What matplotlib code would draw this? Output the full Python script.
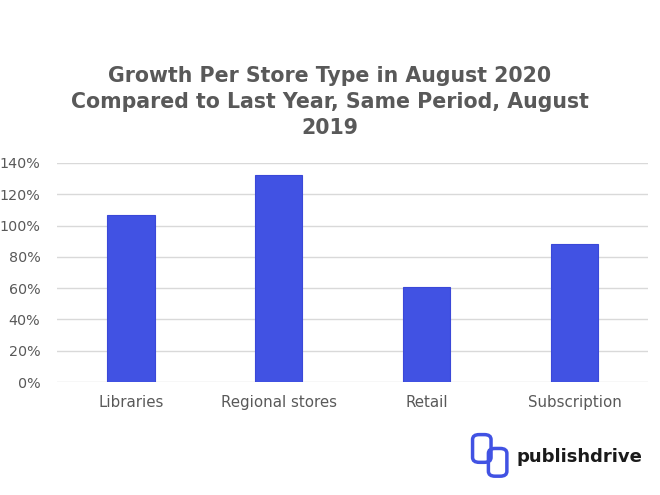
import matplotlib.pyplot as plt
from matplotlib.patches import FancyBboxPatch
from matplotlib.ticker import PercentFormatter

store_types = ["Libraries", "Regional stores", "Retail", "Subscription"]
growth_pct = [107, 132, 61, 88]
y_ticks = [0, 20, 40, 60, 80, 100, 120, 140]

bar_color = "#4152E3"
text_color = "#595959"

fig = plt.figure(figsize=(6.6, 4.95), dpi=100)
ax = fig.add_axes([0.0864, 0.228, 0.896, 0.443])

ax.bar(range(len(store_types)), growth_pct, width=0.32, color=bar_color,
       edgecolor="#3a48d8", linewidth=0.8, zorder=3)

ax.set_xlim(-0.5, len(store_types) - 0.5)
ax.set_ylim(0, 140)
ax.set_yticks(y_ticks)
ax.yaxis.set_major_formatter(PercentFormatter(decimals=0))
ax.set_xticks(range(len(store_types)))
ax.set_xticklabels(store_types)

ax.grid(axis="y", color="#d9d9d9", linewidth=1, zorder=0)
for s in ax.spines.values():
    s.set_visible(False)
ax.tick_params(axis="x", length=0, labelsize=10.8, colors=text_color, pad=9)
ax.tick_params(axis="y", length=0, labelsize=10.3, colors=text_color, pad=12)

fig.text(0.5, 0.794,
         "Growth Per Store Type in August 2020\nCompared to Last Year, Same Period, August\n2019",
         ha="center", va="center", fontsize=14.8, fontweight="bold",
         color=text_color, linespacing=1.38)

# logo
fig.text(0.782, 0.076, "publishdrive", ha="left", va="center", fontsize=13,
         fontweight="bold", color="#1a1a1a")
icon1 = FancyBboxPatch((0.720, 0.07), 0.02, 0.048, boxstyle="round,pad=0.004,rounding_size=0.01",
                       transform=fig.transFigure, fill=False, edgecolor=bar_color, linewidth=2.5)
icon2 = FancyBboxPatch((0.744, 0.042), 0.02, 0.048, boxstyle="round,pad=0.004,rounding_size=0.01",
                       transform=fig.transFigure, fill=False, edgecolor=bar_color, linewidth=2.5)
fig.patches.extend([icon1, icon2])

fig.savefig("out.png", dpi=100)
